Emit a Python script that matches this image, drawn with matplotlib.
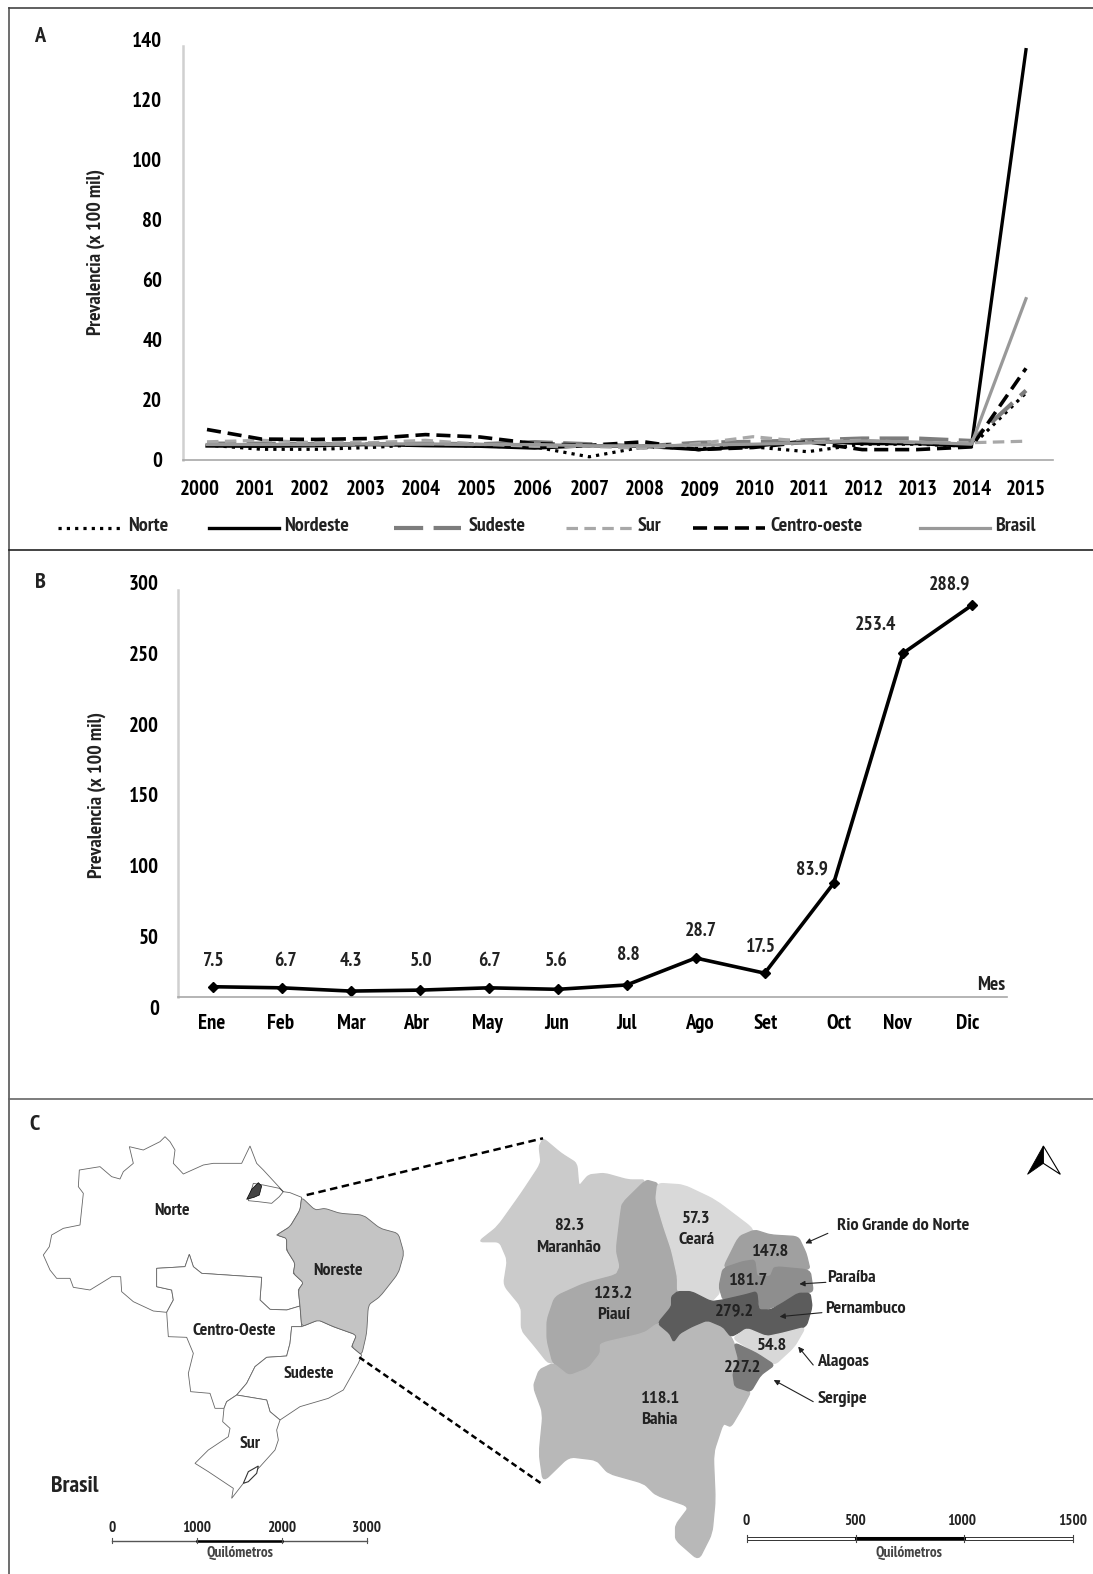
import matplotlib
matplotlib.use('Agg')
import matplotlib.pyplot as plt
from matplotlib.patches import Polygon, PathPatch
from matplotlib.path import Path

plt.rcParams['font.family'] = ['PT Sans Narrow', 'Fira Sans Condensed', 'Roboto Condensed', 'Open Sans', 'DejaVu Sans']
plt.rcParams['font.weight'] = 'bold'
plt.rcParams['text.color'] = '#222222'

W, H = 1093, 1574

# panel A
years = list(range(2000, 2016))
norte = [4.8, 3.4, 3.4, 4.0, 5.1, 4.4, 4.2, 0.9, 4.2, 3.7, 4.2, 2.6, 5.1, 5.1, 4.4, 22.2]
nordeste = [4.5, 4.4, 4.6, 5.0, 4.6, 4.4, 3.8, 4.6, 4.4, 3.3, 4.4, 6.2, 5.3, 5.3, 4.4, 136.6]
sudeste = [5.3, 5.3, 5.1, 5.1, 5.3, 5.1, 5.8, 5.1, 4.4, 5.6, 5.9, 6.4, 7.0, 7.0, 6.2, 23.0]
sur = [5.9, 6.4, 5.6, 5.6, 6.4, 5.1, 4.4, 4.4, 3.7, 5.3, 7.6, 5.9, 6.4, 5.6, 5.6, 6.1]
centro = [10.0, 6.8, 6.7, 7.0, 8.3, 7.5, 5.3, 4.7, 5.9, 3.3, 4.0, 5.9, 3.3, 3.3, 4.2, 30.4]
brasil = [5.0, 5.0, 5.0, 5.2, 5.2, 5.0, 5.0, 4.6, 4.5, 4.8, 5.1, 5.5, 6.2, 5.8, 5.1, 53.6]
year_label_px = [200, 255, 310, 366, 421, 477, 533, 590, 645, 700, 755, 809, 864, 918, 972, 1026]
ticks_a = [0, 20, 40, 60, 80, 100, 120, 140]

# panel B
meses = ['Ene', 'Feb', 'Mar', 'Abr', 'May', 'Jun', 'Jul', 'Ago', 'Set', 'Oct', 'Nov', 'Dic']
prevalencia = [7.5, 6.7, 4.3, 5.0, 6.7, 5.6, 8.8, 28.7, 17.5, 83.9, 253.4, 288.9]
mes_label_px = [212, 281, 351, 416, 487, 557, 627, 699, 766, 839, 897, 968]
valor_px = [(213, 961), (285, 961), (351, 961), (421, 961), (489, 961), (556, 961),
            (628, 955), (701, 931), (761, 947), (812, 870), (876, 625), (950, 585)]
ticks_b = [0, 50, 100, 150, 200, 250, 300]

# mapa de Brasil (coordenadas del mapa)
norte_map = [(905,292),(870,278),(850,275),(838,290),(815,310),(775,305),(745,302),(760,250),(790,255),(838,265),(850,275),
             (790,210),(770,190),(750,138),(725,190),(640,190),(610,195),(550,222),(520,190),(525,150),(510,125),(495,110),
             (480,125),(430,150),(388,140),(400,190),(370,215),(360,237),(335,230),(300,200),(238,210),(235,260),(250,280),
             (240,375),(190,385),(155,405),(148,440),(130,465),(150,510),(170,535),(210,535),(220,562),(270,570),(335,530),
             (362,530),(365,575),(400,605),(460,633),(500,637),(520,600),(515,570),(470,560),(470,505),(555,500),(568,463),
             (580,500),(605,520),(785,532),(780,600),(810,628),(860,630),(900,618),(895,570),(910,548),(880,520),(885,490),
             (860,450),(860,415),(830,405),(870,380),(900,330)]
nordeste_map = [(905,292),(945,330),(975,325),(1020,340),(1090,345),(1140,385),(1195,400),(1212,460),(1195,520),(1140,590),
                (1105,615),(1100,700),(1085,765),(1055,740),(1070,705),(1000,680),(955,660),(905,680),(900,618),(895,570),
                (910,548),(880,520),(885,490),(860,450),(860,415),(830,405),(870,380),(900,330)]
centro_map = [(500,637),(505,710),(560,712),(580,760),(565,820),(572,875),(630,880),(645,925),(672,925),(680,905),(710,885),
              (740,850),(765,800),(800,772),(860,768),(870,730),(875,680),(905,680),(900,618),(860,630),(810,628),(780,600),
              (785,532),(605,520),(580,500),(568,463),(555,500),(470,505),(470,560),(515,570),(520,600)]
sudeste_map = [(710,885),(800,900),(810,935),(840,960),(900,920),(985,895),(1030,870),(1075,790),(1085,765),(1055,740),
               (1070,705),(1000,680),(955,660),(905,680),(875,680),(870,730),(860,768),(800,772),(765,800),(740,850)]
sur_map = [(672,925),(668,965),(690,985),(685,1010),(625,1050),(585,1090),(625,1115),(700,1165),(695,1195),(730,1150),
           (780,1100),(825,1050),(835,1020),(830,990),(840,960),(810,935),(800,900),(710,885),(680,905)]
marajo = [(740,298),(755,268),(775,248),(785,258),(778,285),(762,292)]
laguna = [(730,1150),(745,1115),(775,1098),(770,1120),(745,1145)]

# estados del noreste
estados = {
    'Maranhao': ('#cbcbcb', [(185,55),(175,80),(180,130),(130,220),(70,320),(22,365),(75,365),(95,420),(85,495),(130,560),(130,630),
                             (165,680),(195,725),(210,730),(195,660),(195,600),(215,530),(290,490),(370,465),(380,440),(370,390),
                             (380,290),(385,250),(445,180),(400,180),(340,160),(300,165),(275,200),(270,130),(230,100)]),
    'Piaui': ('#a9a9a9', [(445,180),(475,190),(470,240),(490,320),(510,390),(525,470),(525,515),(510,530),(510,560),(475,610),(440,640),
                          (330,670),(330,700),(300,745),(250,768),(210,730),(195,660),(195,600),(215,530),(290,490),(370,465),
                          (380,440),(370,390),(380,290),(385,250)]),
    'Ceara': ('#d9d9d9', [(475,190),(540,195),(620,240),(720,330),(680,350),(640,440),(630,500),(630,520),(610,545),(560,515),
                          (525,515),(525,470),(510,390),(490,320),(470,240)]),
    'Bahia': ('#b8b8b8', [(475,610),(505,640),(515,665),(530,640),(560,620),(600,600),(640,620),(665,660),(680,720),(665,760),
                          (670,800),(710,815),(690,860),(660,920),(640,910),(615,1000),(620,1140),(612,1240),(578,1320),(520,1260),
                          (520,1215),(555,1160),(470,1125),(440,1090),(350,1060),(320,1020),(250,1010),(185,1085),(175,1000),
                          (185,880),(160,800),(175,750),(210,730),(250,768),(300,745),(330,700),(330,670),(440,640)]),
    'RN': ('#a0a0a0', [(720,330),(760,345),(830,350),(850,400),(860,450),(770,440),(760,470),(725,470),(720,420),(690,425),
                       (640,445),(680,350)]),
    'Paraiba': ('#8e8e8e', [(640,445),(690,425),(720,420),(725,470),(760,470),(770,440),(860,450),(868,515),(830,520),(790,550),
                            (735,575),(725,515),(695,525),(640,540),(630,500)]),
    'Pernambuco': ('#5c5c5c', [(525,515),(560,515),(610,545),(640,540),(695,525),(725,515),(730,570),(760,570),(790,550),(830,520),
                               (860,520),(865,560),(850,620),(790,640),(750,650),(700,625),(660,650),(640,620),(600,600),(560,620),
                               (530,640),(515,665),(505,640),(475,610),(510,560),(510,530)]),
    'Alagoas': ('#d8d8d8', [(700,625),(750,650),(790,640),(848,622),(820,680),(770,735),(725,700),(665,655)]),
    'Sergipe': ('#7a7a7a', [(668,668),(725,700),(770,735),(735,765),(710,815),(670,800),(665,760),(680,720)]),
}
etiquetas_ne = [('82.3', 250, 318), ('Maranhão', 250, 383), ('57.3', 572, 297), ('Ceará', 572, 360),
                ('147.8', 757, 397), ('181.7', 702, 482), ('123.2', 362, 522), ('Piauí', 362, 585),
                ('279.2', 670, 575), ('54.8', 763, 678), ('227.2', 690, 745), ('118.1', 480, 838), ('Bahia', 480, 900)]
flechas_ne = [('Rio Grande do Norte', 928, 318, (905,340), (848,370)),
              ('Paraíba', 903, 475, (900,487), (833,492)),
              ('Pernambuco', 898, 567, (890,578), (783,590)),
              ('Alagoas', 878, 727, (868,735), (830,680)),
              ('Sergipe', 878, 838, (868,845), (768,780))]
regiones = [('Norte', 515, 332), ('Noreste', 1013, 513), ('Centro-Oeste', 702, 693), ('Sudeste', 927, 822), ('Sur', 750, 1032)]


def z1(pts):
    return [(x / 3, 1100 + y / 3) for x, y in pts]


def z2(pts):
    return [(470 + x / 2.529, 1120 + y / 3) for x, y in pts]


def px_axes(x0, y0, x1, y1):
    return fig.add_axes([x0 / W, 1 - y1 / H, (x1 - x0) / W, (y1 - y0) / H])


def suave(pts, f=0.22):
    # redondea solo las esquinas, los tramos rectos quedan donde estan
    n = len(pts)
    verts, codes = [], []
    for i, p in enumerate(pts):
        a, b = pts[i - 1], pts[(i + 1) % n]
        ini = (p[0] + f * (a[0] - p[0]), p[1] + f * (a[1] - p[1]))
        fin = (p[0] + f * (b[0] - p[0]), p[1] + f * (b[1] - p[1]))
        verts += [ini, p, fin]
        codes += [Path.MOVETO if i == 0 else Path.LINETO, Path.CURVE3, Path.CURVE3]
    verts.append(verts[0])
    codes.append(Path.LINETO)
    return Path(verts, codes)


fig = plt.figure(figsize=(W / 100, H / 100), dpi=100, facecolor='white')

# A
ax_a = px_axes(183, 39.5, 1053, 459.5)
to_year = lambda px: 2000 + (px - 207) / 54.6
ax_a.set_xlim(to_year(183), to_year(1053))
ax_a.set_ylim(0, 140)
ax_a.plot(years, norte, color='black', lw=2.3, ls=(0, (1, 1.6)))
ax_a.plot(years, nordeste, color='black', lw=2.4)
ax_a.plot(years, sudeste, color='#7d7d7d', lw=3, ls=(0, (7, 2.5)))
ax_a.plot(years, sur, color='#a8a8a8', lw=2.3, ls=(0, (3.6, 2)))
ax_a.plot(years, centro, color='black', lw=2.6, ls=(0, (3.9, 1.9)))
ax_a.plot(years, brasil, color='#999999', lw=2.3)
for s in ['top', 'right']:
    ax_a.spines[s].set_visible(False)
ax_a.spines['left'].set_bounds(0, 137.7)
ax_a.spines['left'].set_color('#d0d0d0')
ax_a.spines['left'].set_linewidth(1.8)
ax_a.spines['bottom'].set_color('#a8a8a8')
ax_a.spines['bottom'].set_linewidth(1.2)
ax_a.set_yticks(ticks_a)
ax_a.set_xticks([to_year(p) for p in year_label_px], [str(y) for y in years])
ax_a.tick_params(axis='y', length=0, pad=15, labelsize=15)
ax_a.tick_params(axis='x', length=0, pad=15, labelsize=15)
ax_a.patch.set_alpha(0)

# B
ax_b = px_axes(177.7, 590.3, 1007, 996.9)
to_mes = lambda px: (px - 212.7) / 69.0
ax_b.set_xlim(to_mes(177.7), to_mes(1007))
ax_b.set_ylim(0, 300)
ax_b.plot(range(12), prevalencia, color='black', lw=2.6, marker='D', ms=5.5)
for s in ['top', 'right']:
    ax_b.spines[s].set_visible(False)
ax_b.spines['left'].set_color('#d0d0d0')
ax_b.spines['left'].set_linewidth(1.8)
ax_b.spines['bottom'].set_color('#a8a8a8')
ax_b.spines['bottom'].set_linewidth(1.2)
ax_b.set_yticks([])
ax_b.set_xticks([to_mes(p) for p in mes_label_px], meses)
ax_b.tick_params(axis='x', length=0, pad=12, labelsize=15)
ax_b.patch.set_alpha(0)

# los rotulos del eje y de B no coinciden con la escala del grafico
ax_bl = px_axes(177.7, 582.3, 1007, 1007.7)
ax_bl.set_ylim(0, 300)
ax_bl.set_yticks(ticks_b)
ax_bl.set_xticks([])
ax_bl.tick_params(axis='y', length=0, pad=13.5, labelsize=15)
ax_bl.patch.set_alpha(0)
for s in ax_bl.spines.values():
    s.set_visible(False)

# capa en pixeles para marcos, leyenda, textos y mapas
ov = fig.add_axes([0, 0, 1, 1], zorder=5)
ov.set_xlim(0, W)
ov.set_ylim(H, 0)
ov.axis('off')
ov.patch.set_alpha(0)

ov.plot([8.7, 8.7], [7.7, H], color='#555555', lw=1.2)
ov.plot([8.7, W], [7.7, 7.7], color='#444444', lw=1.2)
ov.plot([8.7, W], [550, 550], color='#222222', lw=1.2)
ov.plot([8.7, W], [1099, 1099], color='#666666', lw=1.2)

for letra, x, y in [('A', 40, 36), ('B', 40.7, 583), ('C', 34, 1125)]:
    ov.text(x, y, letra, fontsize=16, ha='center', va='center')

ov.text(95.7, 251.6, 'Prevalencia (x 100 mil)', rotation=90, fontsize=14.5, ha='center', va='center')
ov.text(96.7, 794.6, 'Prevalencia (x 100 mil)', rotation=90, fontsize=14.5, ha='center', va='center')

# leyenda A
ley = [('Norte', 58, 122, 127.7, 'black', 2.3, (0, (1, 1.6))),
       ('Nordeste', 209, 279, 284, 'black', 2.4, '-'),
       ('Sudeste', 394, 461, 468.6, '#7d7d7d', 3, (0, (7, 2.5))),
       ('Sur', 566, 635, 638, '#a8a8a8', 2.3, (0, (3.6, 2))),
       ('Centro-oeste', 693, 765, 770, 'black', 2.6, (0, (3.9, 1.9))),
       ('Brasil', 920, 990, 994.7, '#999999', 2.3, '-')]
for nombre, x0, x1, xt, c, lw, ls in ley:
    ov.plot([x0, x1], [528, 528], color=c, lw=lw, ls=ls)
    ov.text(xt, 526, nombre, fontsize=14.5, ha='left', va='center')

# valores B
for v, (x, y) in zip(prevalencia, valor_px):
    ov.text(x, y, f'{v:.1f}', fontsize=14, ha='center', va='center')
ov.text(991.3, 985, 'Mes', fontsize=14, ha='center', va='center')

# mapa Brasil
for pts, fc in [(norte_map, 'white'), (centro_map, 'white'), (sudeste_map, 'white'), (sur_map, 'white')]:
    ov.add_patch(Polygon(z1(pts), closed=True, fc=fc, ec='#666666', lw=0.6))
ov.add_patch(PathPatch(suave(z1(nordeste_map)), fc='#c4c4c4', ec='#666666', lw=0.6))
ov.add_patch(Polygon(z1(marajo), closed=True, fc='#444444', ec='black', lw=0.5))
ov.add_patch(Polygon(z1(laguna), closed=True, fc='white', ec='#333333', lw=0.8))
for nombre, x, y in regiones:
    (px, py), = z1([(x, y)])
    ov.text(px, py, nombre, fontsize=12.8, ha='center', va='center')
ov.text(75, 1487, 'Brasil', fontsize=17, ha='center', va='center')

# lineas punteadas de zoom
ov.plot([306.7, 543], [1195, 1138.3], color='black', lw=1.8, ls=(0, (3, 1.8)))
ov.plot([359.3, 541], [1357.3, 1483.3], color='black', lw=1.8, ls=(0, (2.4, 1.5)))

# escala Brasil
(e0, ey), (e3, _) = z1([(337, 1322), (1100, 1322)])
paso = (e3 - e0) / 3
ov.plot([e0, e3], [ey, ey], color='#555555', lw=1)
ov.plot([e0 + paso, e0 + 2 * paso], [ey, ey], color='black', lw=1.8)
for i, t in enumerate(['0', '1000', '2000', '3000']):
    ov.plot([e0 + i * paso] * 2, [ey - 2.2, ey + 2.2], color='#555555', lw=0.8)
    ov.text(e0 + i * paso, 1528.5, t, fontsize=11, ha='center', va='center')
ov.text(240, 1553, 'Quilómetros', fontsize=11, ha='center', va='center', color='#444444')

# noreste
for nombre, (fc, pts) in estados.items():
    ov.add_patch(PathPatch(suave(z2(pts)), fc=fc, ec=fc, lw=1.0))
for t, x, y in etiquetas_ne:
    (px, py), = z2([(x, y)])
    ov.text(px, py, t, fontsize=13.2, ha='center', va='center')
for t, x, y, cola, punta in flechas_ne:
    (px, py), = z2([(x, y)])
    ov.text(px, py, t, fontsize=13.2, ha='left', va='center')
    ov.annotate('', xy=z2([punta])[0], xytext=z2([cola])[0],
                arrowprops=dict(arrowstyle='-|>', color='#222222', lw=0.8, mutation_scale=8, shrinkA=0, shrinkB=0))

# norte
ov.add_patch(Polygon(z2([(1450,78),(1410,163),(1450,130)]), closed=True, fc='black', ec='black', lw=0.6))
ov.add_patch(Polygon(z2([(1450,78),(1493,163),(1450,130)]), closed=True, fc='white', ec='black', lw=0.8))

# escala noreste
(s0, sy), (s3, _) = z2([(700, 1255), (1525, 1255)])
paso2 = (s3 - s0) / 3
ov.plot([s0, s3], [sy - 1.2, sy - 1.2], color='#333333', lw=0.7)
ov.plot([s0, s3], [sy + 1.2, sy + 1.2], color='#333333', lw=0.7)
ov.plot([s0 + paso2, s0 + 2 * paso2], [sy, sy], color='black', lw=2.2)
for i in range(4):
    ov.plot([s0 + i * paso2] * 2, [sy - 3.5, sy + 3.5], color='#444444', lw=0.8)
for t, x in zip(['0', '500', '1000', '1500'], [698, 973, 1243, 1523]):
    ov.text(z2([(x, 0)])[0][0], 1521, t, fontsize=11, ha='center', va='center')
ov.text(z2([(1110, 0)])[0][0], 1553, 'Quilómetros', fontsize=11, ha='center', va='center', color='#444444')

fig.savefig('out.png', dpi=100)
